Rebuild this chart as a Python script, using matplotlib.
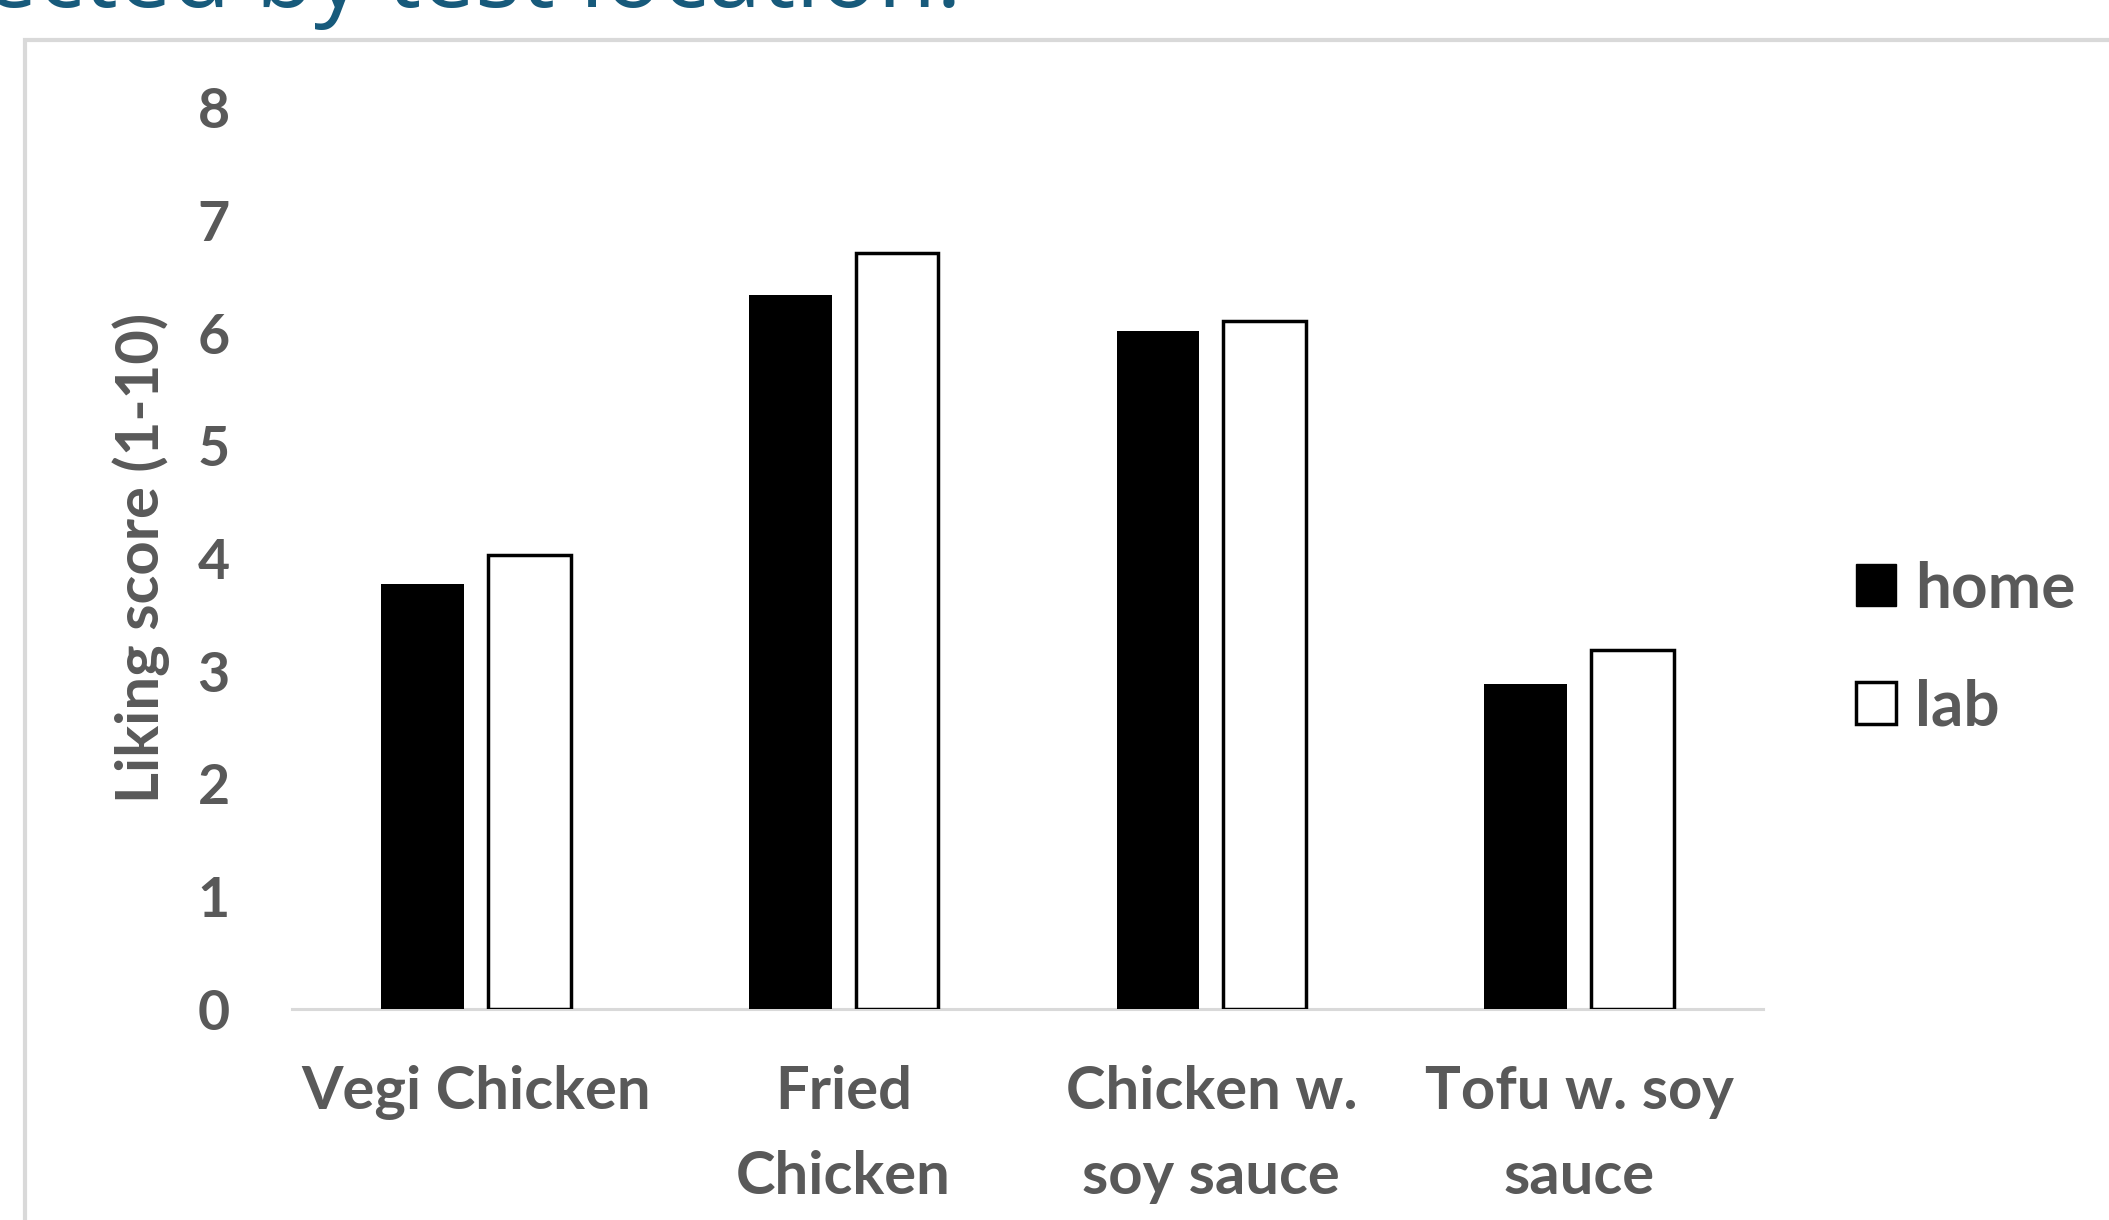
import matplotlib
matplotlib.use("Agg")
import matplotlib.pyplot as plt
from matplotlib.patches import Rectangle, Patch
import numpy as np

# liking scores per dish, split by test location
categories = ["Vegi Chicken", "Fried\nChicken", "Chicken w.\nsoy sauce", "Tofu w. soy\nsauce"]
home = [3.77, 6.34, 6.02, 2.89]
lab = [4.03, 6.71, 6.11, 3.19]
yticks = [0, 1, 2, 3, 4, 5, 6, 7, 8]
series_names = ["home", "lab"]

W, H = 2109, 1220
GRAY = "#595959"
FONT = "Lato"

fig = plt.figure(figsize=(W / 100, H / 100), dpi=100)

# heading of the slide, running off the top edge
fig.text(962 / W, 1 - 7 / H, "affected by test location:", ha="right", va="baseline",
         fontsize=69, color="#175A7B", family="Open Sans")

# chart frame
fig.patches.append(Rectangle((25 / W, -0.2), 1.2, 1 - 40 / H + 0.2, transform=fig.transFigure,
                             fill=False, edgecolor="#D9D9D9", lw=3))

ax = fig.add_axes([292 / W, 1 - 1009 / H, (1763 - 292) / W, (1009 - 108) / H])
x = np.arange(len(categories))
w = 0.225
ax.bar(x - 0.145, home, w, color="black", label=series_names[0], zorder=3)
ax.bar(x + 0.145, lab, w, color="white", edgecolor="black", lw=2.5, label=series_names[1], zorder=3)

ax.set_xlim(-0.5, len(categories) - 0.5)
ax.set_ylim(0, 8)
ax.set_yticks(yticks)
ax.set_xticks(x)
ax.set_xticklabels(categories, linespacing=1.72)
for s in ["top", "right", "left"]:
    ax.spines[s].set_visible(False)
ax.spines["bottom"].set_color("#D9D9D9")
ax.spines["bottom"].set_linewidth(2.2)
ax.tick_params(axis="both", length=0)
ax.tick_params(axis="y", pad=45)
ax.tick_params(axis="x", pad=40)
for lbl in ax.get_yticklabels():
    lbl.set_fontsize(40)
    lbl.set_fontweight("bold")
    lbl.set_color(GRAY)
    lbl.set_family(FONT)
for lbl in ax.get_xticklabels():
    lbl.set_fontsize(43)
    lbl.set_fontweight("bold")
    lbl.set_color(GRAY)
    lbl.set_family(FONT)

fig.text(141 / W, 1 - 558 / H, "Liking score (1-10)", rotation=90, ha="center", va="center",
         fontsize=43, fontweight="bold", color=GRAY, family=FONT)

handles = [Patch(facecolor="black", edgecolor="black", lw=1),
           Patch(facecolor="white", edgecolor="black", lw=2.5)]
leg = ax.legend(handles, series_names, loc="center left", bbox_to_anchor=(1856 / W, 1 - 648 / H),
                bbox_transform=fig.transFigure, frameon=False, borderpad=0, borderaxespad=0,
                handlelength=0.62, handleheight=0.62, handletextpad=0.3, labelspacing=0.95,
                prop={"family": FONT, "weight": "bold", "size": 46})
for t in leg.get_texts():
    t.set_color(GRAY)

fig.savefig("out.png", dpi=100)
